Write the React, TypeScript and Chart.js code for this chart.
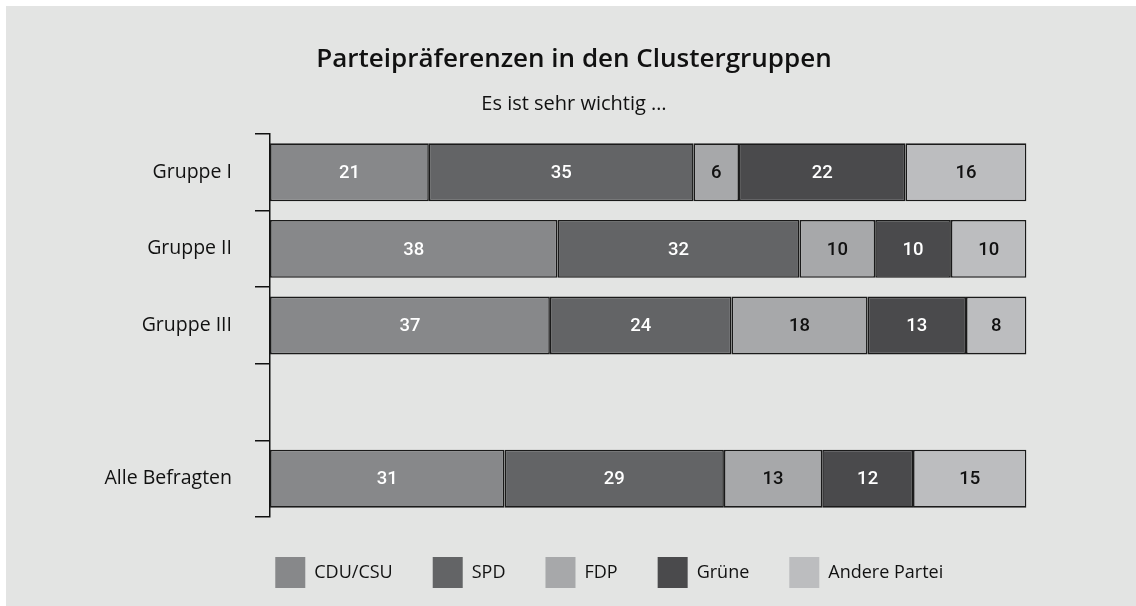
import React, { useEffect, useRef } from "react";
import { Chart, registerables } from "chart.js";

Chart.register(...registerables);

const titleText = "Parteipräferenzen in den Clustergruppen";
const subtitleText = "Es ist sehr wichtig …";
const categories = ["Gruppe I", "Gruppe II", "Gruppe III", "", "Alle Befragten"];
const seriesNames = ["CDU/CSU", "SPD", "FDP", "Grüne", "Andere Partei"];
const cduValues = [21, 38, 37, null, 31];
const spdValues = [35, 32, 24, null, 29];
const fdpValues = [6, 10, 18, null, 13];
const grueneValues = [22, 10, 13, null, 12];
const andereValues = [16, 10, 8, null, 15];
const seriesColors = ["#87888a", "#636466", "#a7a8aa", "#4a4a4c", "#bcbdbf"];
const labelColors = ["#ffffff", "#ffffff", "#111111", "#ffffff", "#111111"];

const BG = "#e3e4e3";
const PAD_LEFT = 60;
const LEGEND_SHIFT = 63;

const valueLabelPlugin = {
  id: "valueLabels",
  afterDatasetsDraw(chart: any) {
    const ctx = chart.ctx;
    ctx.save();
    ctx.font = "500 18.5px Roboto, 'Open Sans', sans-serif";
    ctx.textAlign = "center";
    ctx.textBaseline = "middle";
    chart.data.datasets.forEach((ds: any, di: number) => {
      const meta = chart.getDatasetMeta(di);
      meta.data.forEach((el: any, i: number) => {
        const v = ds.data[i];
        if (v === null || v === undefined) return;
        ctx.fillStyle = labelColors[di];
        ctx.fillText(String(v), (el.x + el.base) / 2, el.y + 1);
      });
    });
    ctx.restore();
  },
};

const headerPlugin = {
  id: "header",
  afterDraw(chart: any) {
    const ctx = chart.ctx;
    ctx.save();
    ctx.textAlign = "center";
    ctx.textBaseline = "middle";
    ctx.fillStyle = "#111111";
    ctx.font = "600 26px 'Open Sans', sans-serif";
    ctx.fillText(titleText, chart.width / 2 + 3, 54);
    ctx.font = "20px 'Open Sans', sans-serif";
    ctx.fillText(subtitleText, chart.width / 2 + 3, 98);
    ctx.restore();
  },
};

const legendShiftPlugin = {
  id: "legendShift",
  afterLayout(chart: any) {
    if (chart.legend) {
      chart.legend.left += LEGEND_SHIFT;
      chart.legend.right += LEGEND_SHIFT;
    }
  },
};

export default function App() {
  const canvasRef = useRef<HTMLCanvasElement | null>(null);

  useEffect(() => {
    document.body.style.margin = "0";
    const canvas = canvasRef.current;
    if (!canvas) return;
    const values = [cduValues, spdValues, fdpValues, grueneValues, andereValues];
    const chart = new Chart(canvas, {
      type: "bar",
      data: {
        labels: categories,
        datasets: seriesNames.map((name, i) => ({
          label: name,
          data: values[i],
          backgroundColor: seriesColors[i],
          borderColor: "#1a1a1a",
          borderWidth: 1.6,
          borderSkipped: false,
          barPercentage: 1,
          categoryPercentage: 0.756,
        })),
      },
      options: {
        indexAxis: "y",
        responsive: false,
        animation: false,
        layout: { padding: { top: 128, bottom: 8, left: PAD_LEFT, right: 109.5 } },
        scales: {
          x: { stacked: true, min: 0, max: 100, display: false },
          y: {
            stacked: true,
            afterFit(scale: any) {
              scale.width = 264 - PAD_LEFT;
            },
            grid: {
              display: true,
              drawOnChartArea: false,
              drawTicks: true,
              tickLength: 15,
              color: "#111111",
              lineWidth: 1.5,
              offset: true,
            },
            border: { display: true, color: "#111111", width: 1.5 },
            ticks: {
              padding: 23,
              color: "#111111",
              font: { family: "'Open Sans', sans-serif", size: 19.5 },
            },
          },
        },
        plugins: {
          legend: {
            position: "bottom",
            align: "center",
            labels: {
              boxWidth: 30,
              boxHeight: 31,
              padding: 40,
              color: "#111111",
              font: { family: "'Open Sans', sans-serif", size: 18 },
              generateLabels(c: any) {
                const items = Chart.defaults.plugins.legend.labels.generateLabels(c);
                return items.map((it: any) => ({ ...it, lineWidth: 0, strokeStyle: "rgba(0,0,0,0)" }));
              },
            },
          },
          title: { display: false },
          tooltip: { enabled: false },
        },
      },
      plugins: [valueLabelPlugin, headerPlugin, legendShiftPlugin],
    } as any);
    return () => chart.destroy();
  }, []);

  return (
    <div style={{ width: 1136, height: 606, background: "#ffffff", position: "relative" }}>
      <div style={{ position: "absolute", left: 6, top: 6, width: 1130, height: 600, background: BG }}>
        <canvas ref={canvasRef} width={1130} height={600} style={{ display: "block" }} />
      </div>
    </div>
  );
}
